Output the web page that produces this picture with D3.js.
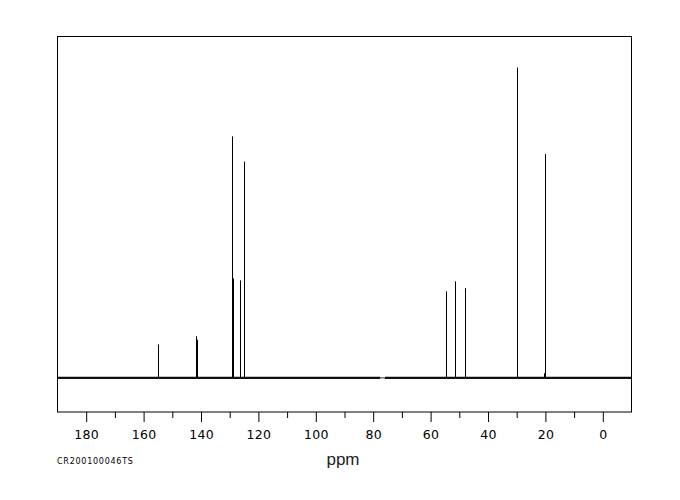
<!DOCTYPE html>
<html><head><meta charset="utf-8">
<script src="https://cdn.jsdelivr.net/npm/d3@7"></script>
<style>body{margin:0;background:#fff}svg{display:block}</style>
</head><body>
<svg id="c" width="680" height="500"></svg>
<script>
// Peak positions (ppm) and relative intensities
const peakPpm = [154.8, 141.4, 141.1, 129.0, 128.6, 126.2, 124.8, 54.4, 51.1, 47.8, 29.6, 19.9, 20.1];
const peakInt = [10.8, 13.4, 12.3, 77.8, 32.0, 31.4, 69.7, 27.9, 31.1, 28.9, 100, 72.1, 1.5];
// Baseline segments (ppm from, to); solvent region removed
const baseFrom = [190, 75.9];
const baseTo = [77.6, -10];
const majorTicks = [180, 160, 140, 120, 100, 80, 60, 40, 20, 0];
const minorTicks = [170, 150, 130, 110, 90, 70, 50, 30, 10];
const xDomain = [190, -10];
const yDomain = [-11, 110];
const xLabel = "ppm";
const sampleId = "CR200100046TS";

const svg = d3.select("#c");
const L = 57.5, R = 631.5, T = 36.5, B = 412;
const x = d3.scaleLinear().domain(xDomain).range([L, R]);
const y = d3.scaleLinear().domain(yDomain).range([B, T]);
const px = v => Math.round(x(v)) - 0.5;

// baseline (noisy band)
const g = svg.append("g");
g.append("line").attr("x1", x(baseTo[0])).attr("x2", x(baseFrom[1]))
  .attr("y1", y(0)).attr("y2", y(0)).attr("stroke", "#333").attr("stroke-width", 1);
baseFrom.forEach((f, i) => {
  g.append("line").attr("x1", x(f)).attr("x2", x(baseTo[i]))
    .attr("y1", y(0)).attr("y2", y(0)).attr("stroke", "#111").attr("stroke-width", 2.2);
});

// peaks
g.selectAll("line.pk").data(peakPpm).enter().append("line").attr("class", "pk")
  .attr("x1", d => px(d)).attr("x2", d => px(d))
  .attr("y1", y(0)).attr("y2", (d, i) => y(peakInt[i]))
  .attr("stroke", "#000").attr("stroke-width", 1);

// frame
svg.append("rect").attr("x", L).attr("y", T).attr("width", R - L).attr("height", B - T)
  .attr("fill", "none").attr("stroke", "#000").attr("stroke-width", 1);

// axis
const ax = svg.append("g").attr("transform", `translate(0,${B})`)
  .call(d3.axisBottom(x).tickValues(majorTicks).tickSize(10).tickPadding(8).tickFormat(d3.format("d")));
ax.select(".domain").remove();
ax.selectAll("text").attr("font-family", "DejaVu Sans, Verdana, sans-serif")
  .attr("font-size", 12.5).attr("letter-spacing", 0.3).attr("fill", "#000");
ax.selectAll("line").attr("stroke", "#000");
const mx = svg.append("g").attr("transform", `translate(0,${B})`)
  .call(d3.axisBottom(x).tickValues(minorTicks).tickSize(6).tickFormat(""));
mx.select(".domain").remove();
mx.selectAll("line").attr("stroke", "#000");

svg.append("text").attr("x", 343).attr("y", 465).attr("text-anchor", "middle")
  .attr("font-family", "Liberation Sans, Arial, sans-serif").attr("font-size", 17)
  .attr("fill", "#222").text(xLabel);
svg.append("text").attr("x", 57).attr("y", 463.5)
  .attr("font-family", "DejaVu Sans, Verdana, sans-serif").attr("font-size", 8)
  .attr("letter-spacing", 0.75).attr("fill", "#000").text(sampleId);
</script>
</body></html>
